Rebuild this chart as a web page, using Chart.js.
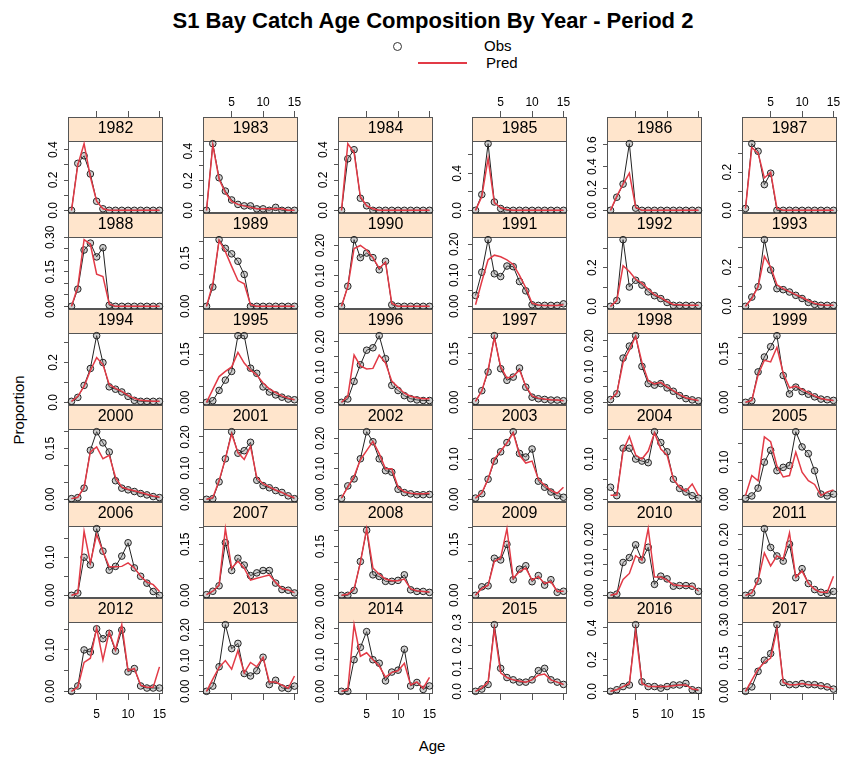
<!DOCTYPE html>
<html>
<head>
<meta charset="utf-8">
<script src="https://cdn.jsdelivr.net/npm/chart.js@4.4.1/dist/chart.umd.min.js"></script>
<style>
  body { margin: 0; background: #fff; font-family: "Liberation Sans", Arial, sans-serif; }
  #page { position: relative; width: 843px; height: 760px; overflow: hidden; }
  #page canvas { position: absolute; }
  .lbl { position: absolute; white-space: nowrap; color: #000; }
</style>
</head>
<body>
<div id="page">
  <div class="lbl" style="left:0;width:866px;top:8px;text-align:center;font-weight:bold;font-size:22px;">S1 Bay Catch Age Composition By Year - Period 2</div>
  <div class="lbl" style="left:393px;top:42px;width:7px;height:7px;border:1.2px solid #333;border-radius:50%;"></div>
  <div class="lbl" style="left:484px;top:37px;font-size:15px;">Obs</div>
  <div class="lbl" style="left:418px;top:62px;width:49px;height:1.5px;background:#e23a46;"></div>
  <div class="lbl" style="left:486px;top:54px;font-size:15px;">Pred</div>
  <div class="lbl" style="left:18px;top:410px;font-size:15px;transform:translate(-50%,-50%) rotate(-90deg);">Proportion</div>
  <div class="lbl" style="left:432px;top:745px;font-size:15px;transform:translate(-50%,-50%);">Age</div>
</div>
<script>
// ages on the x axis, axis ticks
const ages = [1, 2, 3, 4, 5, 6, 7, 8, 9, 10, 11, 12, 13, 14, 15];
const xTicks = [5, 10, 15];
const years = [1982, 1983, 1984, 1985, 1986, 1987, 1988, 1989, 1990, 1991, 1992, 1993,
  1994, 1995, 1996, 1997, 1998, 1999, 2000, 2001, 2002, 2003, 2004, 2005,
  2006, 2007, 2008, 2009, 2010, 2011, 2012, 2013, 2014, 2015, 2016, 2017];

// y tick spacing and labelled spacing per panel
const yTickStep = [0.1, 0.1, 0.1, 0.2, 0.2, 0.1, 0.05, 0.05, 0.05, 0.05, 0.1, 0.1,
  0.1, 0.05, 0.05, 0.05, 0.05, 0.05, 0.05, 0.05, 0.05, 0.05, 0.05, 0.05,
  0.05, 0.05, 0.05, 0.05, 0.05, 0.05, 0.05, 0.05, 0.05, 0.1, 0.1, 0.05];
const yLabelStep = [0.2, 0.2, 0.2, 0.4, 0.2, 0.2, 0.15, 0.15, 0.1, 0.1, 0.2, 0.2,
  0.2, 0.15, 0.1, 0.15, 0.1, 0.15, 0.15, 0.1, 0.1, 0.1, 0.1, 0.1,
  0.1, 0.15, 0.15, 0.15, 0.1, 0.1, 0.1, 0.1, 0.1, 0.1, 0.2, 0.15];

const obs1982 = [0, 0.31, 0.36, 0.24, 0.06, 0.01, 0, 0, 0, 0, 0, 0, 0, 0, 0];
const pred1982 = [0, 0.30, 0.44, 0.22, 0.06, 0.01, 0, 0, 0, 0, 0, 0, 0, 0, 0];
const obs1983 = [0, 0.45, 0.22, 0.13, 0.07, 0.04, 0.03, 0.03, 0.01, 0.01, 0, 0.02, 0, 0, 0];
const pred1983 = [0, 0.44, 0.21, 0.12, 0.06, 0.04, 0.03, 0.02, 0.01, 0.01, 0.01, 0.01, 0.01, 0, 0];
const obs1984 = [0, 0.34, 0.40, 0.08, 0.03, 0, 0, 0, 0, 0, 0, 0, 0, 0, 0];
const pred1984 = [0, 0.44, 0.38, 0.09, 0.03, 0.01, 0, 0, 0, 0, 0, 0, 0, 0, 0];
const obs1985 = [0, 0.17, 0.72, 0.09, 0.02, 0, 0, 0, 0, 0, 0, 0, 0, 0, 0];
const pred1985 = [0, 0.15, 0.56, 0.08, 0.03, 0.01, 0, 0, 0, 0, 0, 0, 0, 0, 0];
const obs1986 = [0, 0.12, 0.24, 0.61, 0.02, 0, 0, 0, 0, 0, 0, 0, 0, 0, 0];
const pred1986 = [0, 0.13, 0.24, 0.34, 0.03, 0, 0, 0, 0, 0, 0, 0, 0, 0, 0];
const obs1987 = [0.01, 0.35, 0.31, 0.135, 0.195, 0, 0, 0, 0, 0, 0, 0, 0, 0, 0];
const pred1987 = [0.01, 0.33, 0.30, 0.17, 0.20, 0.01, 0, 0, 0, 0, 0, 0, 0, 0, 0];
const obs1988 = [0, 0.075, 0.245, 0.275, 0.215, 0.255, 0.005, 0, 0, 0, 0, 0, 0, 0, 0];
const pred1988 = [0, 0.085, 0.29, 0.27, 0.14, 0.13, 0.01, 0, 0, 0, 0, 0, 0, 0, 0];
const obs1989 = [0, 0.06, 0.207, 0.18, 0.163, 0.14, 0.099, 0, 0, 0, 0, 0, 0, 0, 0];
const pred1989 = [0, 0.07, 0.205, 0.17, 0.124, 0.08, 0.07, 0.005, 0, 0, 0, 0, 0, 0, 0];
const obs1990 = [0, 0.066, 0.219, 0.16, 0.175, 0.16, 0.12, 0.148, 0.005, 0, 0, 0, 0, 0, 0];
const pred1990 = [0, 0.065, 0.19, 0.20, 0.185, 0.16, 0.125, 0.145, 0.01, 0, 0, 0, 0, 0, 0];
const obs1991 = [0.035, 0.11, 0.215, 0.105, 0.096, 0.13, 0.128, 0.08, 0.05, 0.005, 0.003, 0.003, 0.003, 0.003, 0.008];
const pred1991 = [0.005, 0.08, 0.15, 0.165, 0.16, 0.15, 0.135, 0.10, 0.06, 0.01, 0.004, 0.003, 0.003, 0.003, 0.005];
const obs1992 = [0, 0.03, 0.345, 0.10, 0.135, 0.11, 0.075, 0.055, 0.04, 0.02, 0.005, 0.005, 0.005, 0.005, 0.005];
const pred1992 = [0, 0.03, 0.21, 0.18, 0.14, 0.12, 0.09, 0.06, 0.045, 0.025, 0.01, 0.008, 0.006, 0.005, 0.005];
const obs1993 = [0, 0.047, 0.10, 0.34, 0.186, 0.09, 0.085, 0.073, 0.056, 0.04, 0.02, 0.01, 0.005, 0.005, 0.005];
const pred1993 = [0, 0.04, 0.10, 0.255, 0.20, 0.11, 0.09, 0.075, 0.06, 0.045, 0.03, 0.015, 0.008, 0.005, 0.005];
const obs1994 = [0.005, 0.025, 0.085, 0.17, 0.335, 0.20, 0.078, 0.066, 0.052, 0.03, 0.01, 0.005, 0.005, 0.005, 0.005];
const pred1994 = [0.005, 0.03, 0.08, 0.16, 0.225, 0.19, 0.09, 0.07, 0.055, 0.035, 0.02, 0.01, 0.008, 0.006, 0.005];
const obs1995 = [0, 0.005, 0.037, 0.069, 0.096, 0.207, 0.207, 0.106, 0.09, 0.048, 0.032, 0.023, 0.016, 0.01, 0.008];
const pred1995 = [0, 0.04, 0.08, 0.096, 0.11, 0.155, 0.122, 0.10, 0.085, 0.06, 0.042, 0.03, 0.02, 0.013, 0.008];
const obs1996 = [0, 0.011, 0.069, 0.124, 0.172, 0.18, 0.22, 0.144, 0.056, 0.039, 0.022, 0.012, 0.008, 0.006, 0.006];
const pred1996 = [0, 0.02, 0.156, 0.12, 0.11, 0.112, 0.156, 0.13, 0.07, 0.05, 0.03, 0.02, 0.015, 0.012, 0.012];
const obs1997 = [0.003, 0.036, 0.094, 0.206, 0.104, 0.068, 0.078, 0.106, 0.047, 0.016, 0.011, 0.009, 0.007, 0.007, 0.005];
const pred1997 = [0.003, 0.035, 0.10, 0.20, 0.11, 0.075, 0.08, 0.10, 0.05, 0.02, 0.013, 0.01, 0.008, 0.007, 0.005];
const obs1998 = [0.009, 0.028, 0.144, 0.183, 0.217, 0.117, 0.061, 0.056, 0.061, 0.047, 0.036, 0.022, 0.012, 0.008, 0.005];
const pred1998 = [0.01, 0.03, 0.13, 0.17, 0.215, 0.13, 0.07, 0.06, 0.065, 0.05, 0.038, 0.025, 0.015, 0.01, 0.006];
const obs1999 = [0, 0.005, 0.094, 0.14, 0.172, 0.206, 0.083, 0.026, 0.047, 0.033, 0.025, 0.017, 0.01, 0.008, 0.006];
const pred1999 = [0, 0.006, 0.085, 0.13, 0.125, 0.17, 0.09, 0.045, 0.05, 0.04, 0.03, 0.02, 0.012, 0.008, 0.006];
const obs2000 = [0.002, 0.005, 0.033, 0.145, 0.20, 0.167, 0.14, 0.055, 0.033, 0.028, 0.023, 0.017, 0.013, 0.008, 0.005];
const pred2000 = [0.002, 0.006, 0.035, 0.14, 0.155, 0.12, 0.13, 0.065, 0.036, 0.03, 0.025, 0.02, 0.015, 0.01, 0.007];
const obs2001 = [0, 0.002, 0.056, 0.13, 0.217, 0.148, 0.156, 0.183, 0.061, 0.044, 0.037, 0.028, 0.022, 0.011, 0.002];
const pred2001 = [0, 0.005, 0.06, 0.13, 0.21, 0.15, 0.128, 0.17, 0.07, 0.05, 0.04, 0.03, 0.022, 0.012, 0.005];
const obs2002 = [0.003, 0.044, 0.067, 0.133, 0.222, 0.189, 0.133, 0.094, 0.089, 0.033, 0.022, 0.018, 0.015, 0.015, 0.016];
const pred2002 = [0.005, 0.04, 0.075, 0.13, 0.16, 0.19, 0.15, 0.10, 0.10, 0.04, 0.025, 0.02, 0.018, 0.018, 0.02];
const obs2003 = [0.003, 0.014, 0.05, 0.095, 0.118, 0.141, 0.168, 0.114, 0.105, 0.125, 0.045, 0.03, 0.018, 0.009, 0.005];
const pred2003 = [0.003, 0.016, 0.05, 0.10, 0.12, 0.14, 0.165, 0.11, 0.09, 0.095, 0.05, 0.035, 0.022, 0.015, 0.03];
const obs2004 = [0.03, 0.009, 0.127, 0.127, 0.10, 0.095, 0.091, 0.168, 0.141, 0.118, 0.05, 0.027, 0.018, 0.009, 0.003];
const pred2004 = [0.01, 0.01, 0.12, 0.156, 0.11, 0.10, 0.12, 0.165, 0.125, 0.11, 0.05, 0.03, 0.02, 0.038, 0.01];
const obs2005 = [0.003, 0.009, 0.03, 0.10, 0.132, 0.077, 0.086, 0.091, 0.182, 0.141, 0.123, 0.077, 0.014, 0.009, 0.014];
const pred2005 = [0.01, 0.064, 0.05, 0.168, 0.155, 0.09, 0.06, 0.064, 0.127, 0.073, 0.05, 0.04, 0.01, 0.02, 0.025];
const obs2006 = [0, 0.006, 0.10, 0.08, 0.175, 0.116, 0.066, 0.076, 0.103, 0.138, 0.072, 0.05, 0.032, 0.01, 0];
const pred2006 = [0, 0.005, 0.168, 0.085, 0.16, 0.115, 0.075, 0.075, 0.076, 0.085, 0.072, 0.05, 0.035, 0.028, 0.01];
const obs2007 = [0.002, 0.012, 0.028, 0.155, 0.073, 0.109, 0.089, 0.058, 0.066, 0.073, 0.073, 0.036, 0.017, 0.015, 0.007];
const pred2007 = [0.002, 0.012, 0.03, 0.196, 0.08, 0.10, 0.08, 0.045, 0.05, 0.055, 0.06, 0.038, 0.02, 0.016, 0.008];
const obs2008 = [0, 0, 0.015, 0.104, 0.20, 0.063, 0.058, 0.043, 0.043, 0.046, 0.063, 0.017, 0.012, 0.012, 0.009];
const pred2008 = [0, 0.003, 0.02, 0.10, 0.205, 0.084, 0.065, 0.05, 0.045, 0.045, 0.05, 0.02, 0.014, 0.012, 0.01];
const obs2009 = [0, 0.025, 0.028, 0.109, 0.104, 0.15, 0.046, 0.077, 0.087, 0.04, 0.058, 0.03, 0.046, 0.009, 0.012];
const pred2009 = [0, 0.02, 0.03, 0.10, 0.11, 0.196, 0.05, 0.07, 0.08, 0.045, 0.055, 0.035, 0.04, 0.012, 0.012];
const obs2010 = [0, 0.004, 0.108, 0.124, 0.166, 0.116, 0.158, 0.036, 0.063, 0.054, 0.03, 0.032, 0.032, 0.03, 0.013];
const pred2010 = [0, 0.005, 0.052, 0.072, 0.13, 0.115, 0.219, 0.06, 0.06, 0.05, 0.035, 0.032, 0.03, 0.03, 0.015];
const obs2011 = [0, 0.008, 0.047, 0.22, 0.158, 0.13, 0.113, 0.169, 0.058, 0.088, 0.039, 0.019, 0.01, 0.006, 0.013];
const pred2011 = [0, 0.008, 0.05, 0.14, 0.097, 0.13, 0.12, 0.206, 0.06, 0.08, 0.04, 0.02, 0.01, 0.01, 0.063];
const obs2012 = [0, 0.013, 0.10, 0.095, 0.151, 0.127, 0.14, 0.097, 0.148, 0.047, 0.055, 0.013, 0.008, 0.008, 0.008];
const pred2012 = [0, 0.01, 0.07, 0.08, 0.153, 0.076, 0.144, 0.10, 0.161, 0.05, 0.055, 0.015, 0.01, 0.01, 0.059];
const obs2013 = [0, 0.017, 0.08, 0.217, 0.139, 0.156, 0.058, 0.05, 0.067, 0.111, 0.022, 0.036, 0.011, 0.009, 0.017];
const pred2013 = [0, 0.04, 0.078, 0.10, 0.072, 0.133, 0.06, 0.094, 0.08, 0.111, 0.03, 0.03, 0.02, 0.01, 0.05];
const obs2014 = [0, 0, 0.10, 0.139, 0.189, 0.10, 0.089, 0.033, 0.061, 0.067, 0.133, 0.017, 0.028, 0.006, 0.017];
const pred2014 = [0, 0.005, 0.211, 0.111, 0.122, 0.10, 0.08, 0.045, 0.06, 0.065, 0.089, 0.02, 0.03, 0.01, 0.044];
const obs2015 = [0, 0.01, 0.03, 0.29, 0.10, 0.06, 0.05, 0.04, 0.04, 0.05, 0.09, 0.10, 0.05, 0.04, 0.03];
const pred2015 = [0, 0.015, 0.04, 0.27, 0.08, 0.06, 0.05, 0.045, 0.04, 0.05, 0.07, 0.075, 0.05, 0.04, 0.03];
const obs2016 = [0, 0.01, 0.03, 0.04, 0.42, 0.06, 0.03, 0.03, 0.02, 0.03, 0.04, 0.04, 0.05, 0.01, 0.005];
const pred2016 = [0, 0.01, 0.03, 0.05, 0.38, 0.05, 0.03, 0.03, 0.03, 0.03, 0.035, 0.04, 0.04, 0.015, 0.01];
const obs2017 = [0, 0.02, 0.09, 0.14, 0.17, 0.30, 0.04, 0.03, 0.03, 0.035, 0.03, 0.03, 0.025, 0.02, 0.01];
const pred2017 = [0, 0.05, 0.10, 0.13, 0.15, 0.28, 0.04, 0.03, 0.03, 0.035, 0.03, 0.028, 0.025, 0.02, 0.01];

const obsSeries = [obs1982, obs1983, obs1984, obs1985, obs1986, obs1987, obs1988, obs1989, obs1990,
  obs1991, obs1992, obs1993, obs1994, obs1995, obs1996, obs1997, obs1998, obs1999, obs2000, obs2001,
  obs2002, obs2003, obs2004, obs2005, obs2006, obs2007, obs2008, obs2009, obs2010, obs2011, obs2012,
  obs2013, obs2014, obs2015, obs2016, obs2017];
const predSeries = [pred1982, pred1983, pred1984, pred1985, pred1986, pred1987, pred1988, pred1989,
  pred1990, pred1991, pred1992, pred1993, pred1994, pred1995, pred1996, pred1997, pred1998, pred1999,
  pred2000, pred2001, pred2002, pred2003, pred2004, pred2005, pred2006, pred2007, pred2008, pred2009,
  pred2010, pred2011, pred2012, pred2013, pred2014, pred2015, pred2016, pred2017];

const fontFamily = '"Liberation Sans", Arial, sans-serif';
const stripFill = "#ffe5cc";
const frameColor = "#555";
const obsColor = "#222";
const predColor = "#e23a46";

Chart.defaults.font.family = fontFamily;
Chart.defaults.color = "#000";

// panel geometry (lattice layout, 6 x 6)
const yAxisW = 34;
const padRight = 4;
const topSpace = 24;
const stripH = 24;
const bottomSpace = 26;
const plotW = 96;
const colLeft = (c) => Math.round(68 + c * 134.8);
const rowTop = (r) => Math.round(116.5 + r * 96.3);

const panelFrame = {
  id: "panelFrame",
  beforeDraw(chart) {
    const { ctx, chartArea, titleBlock } = chart;
    ctx.save();
    ctx.fillStyle = stripFill;
    ctx.fillRect(chartArea.left, titleBlock.top, chartArea.width, titleBlock.height);
    ctx.strokeStyle = frameColor;
    ctx.lineWidth = 1;
    ctx.strokeRect(chartArea.left + 0.5, titleBlock.top + 0.5, chartArea.width - 1, titleBlock.height);
    ctx.restore();
  },
  beforeDatasetsDraw(chart) {
    const { ctx, chartArea } = chart;
    ctx.save();
    ctx.strokeStyle = frameColor;
    ctx.lineWidth = 1;
    ctx.strokeRect(chartArea.left + 0.5, chartArea.top + 0.5, chartArea.width - 1, chartArea.height - 1);
    ctx.restore();
  },
};

function isMultiple(v, step) {
  const q = v / step;
  return Math.abs(q - Math.round(q)) < 1e-6;
}

function buildPanel(i) {
  const r = Math.floor(i / 6);
  const c = i % 6;
  const obs = obsSeries[i];
  const pred = predSeries[i];
  const top = rowTop(r);
  const plotH = rowTop(r + 1) - top - stripH;
  const canvas = document.createElement("canvas");
  const w = yAxisW + plotW + padRight;
  const h = topSpace + stripH + plotH + bottomSpace;
  canvas.width = w;
  canvas.height = h;
  canvas.style.left = colLeft(c) - yAxisW + "px";
  canvas.style.top = top - topSpace + "px";
  canvas.style.width = w + "px";
  canvas.style.height = h + "px";
  document.getElementById("page").appendChild(canvas);

  const peak = Math.max(...obs, ...pred);
  const step = yTickStep[i];
  const labelStep = yLabelStep[i];
  const decimals = step >= 0.1 ? 1 : 2;
  const xShown = r === 0 || r === 5;
  const xLabelled = (r === 0 && c % 2 === 1) || (r === 5 && c % 2 === 0);

  new Chart(canvas, {
    type: "line",
    data: {
      datasets: [
        {
          label: "Pred",
          data: ages.map((a, k) => ({ x: a, y: pred[k] })),
          borderColor: predColor,
          borderWidth: 1.5,
          pointRadius: 0,
          tension: 0,
          clip: false,
        },
        {
          label: "Obs",
          data: ages.map((a, k) => ({ x: a, y: obs[k] })),
          borderColor: obsColor,
          borderWidth: 1,
          pointRadius: 3.3,
          pointBorderColor: obsColor,
          pointBackgroundColor: "rgba(120,120,120,0.35)",
          pointBorderWidth: 1,
          tension: 0,
          clip: false,
        },
      ],
    },
    options: {
      responsive: false,
      animation: false,
      devicePixelRatio: 1,
      events: [],
      layout: {
        padding: { left: 0, right: padRight, top: r === 0 ? 0 : topSpace, bottom: r === 5 ? 0 : bottomSpace },
      },
      plugins: {
        legend: { display: false },
        tooltip: { enabled: false },
        title: {
          display: true,
          text: String(years[i]),
          fullSize: false,
          color: "#000",
          font: { size: 16, weight: "normal", lineHeight: "18px" },
          padding: { top: 3, bottom: 3 },
        },
      },
      scales: {
        x: {
          type: "linear",
          min: 0.44,
          max: 15.56,
          display: xShown,
          position: r === 0 ? "top" : "bottom",
          weight: 3000,
          border: { display: false },
          grid: { display: true, drawOnChartArea: false, drawTicks: true, tickLength: 6, color: frameColor },
          ticks: {
            display: xLabelled,
            autoSkip: false,
            maxRotation: 0,
            padding: r === 0 ? 1 : 7,
            font: { size: 12 },
            color: "#000",
            callback: (v) => String(v),
          },
          afterBuildTicks: (scale) => {
            scale.ticks = xTicks.map((v) => ({ value: v }));
          },
          afterFit: (scale) => {
            if (xShown) scale.height = r === 0 ? topSpace : bottomSpace;
            scale.paddingLeft = 0;
            scale.paddingRight = 0;
          },
        },
        y: {
          type: "linear",
          min: -0.04 * peak,
          max: 1.04 * peak,
          border: { display: false },
          grid: { display: true, drawOnChartArea: false, drawTicks: true, tickLength: 4, color: frameColor },
          ticks: {
            autoSkip: false,
            minRotation: 90,
            maxRotation: 90,
            crossAlign: "center",
            padding: 2,
            font: { size: 12 },
            color: "#000",
            callback: (v) => (isMultiple(v, labelStep) ? v.toFixed(decimals) : ""),
          },
          afterBuildTicks: (scale) => {
            const vals = [];
            for (let k = 0; k * step <= scale.max + 1e-9; k++) vals.push(+(k * step).toFixed(4));
            scale.ticks = vals.map((v) => ({ value: v }));
          },
          afterFit: (scale) => {
            scale.width = yAxisW;
            scale.paddingTop = 0;
            scale.paddingBottom = 0;
          },
        },
      },
    },
    plugins: [panelFrame],
  });
}

years.forEach((_, i) => buildPanel(i));
</script>
</body>
</html>
